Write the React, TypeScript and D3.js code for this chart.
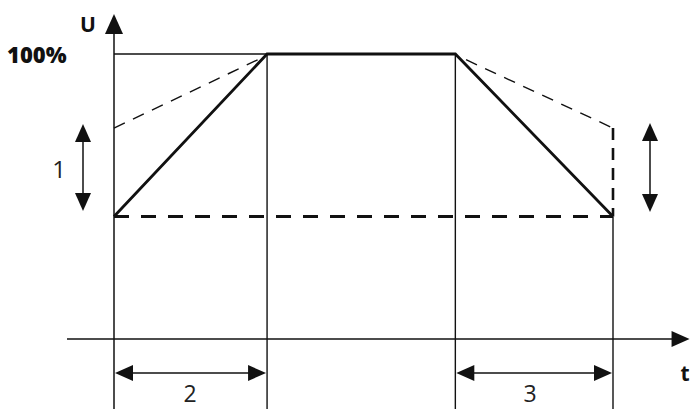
import React from "react";
import * as d3 from "d3";

// time points (arbitrary units): start, end of ramp-up, start of ramp-down, end
const phaseTimes = [0, 10, 22.3, 32.6];
// voltage levels in % of nominal
const startLevel = 43;
const fullLevel = 100;
const dashedStartLevel = 74;
// solid profile
const solidT = [0, 10, 22.3, 32.6];
const solidU = [43, 100, 100, 43];
// dashed alternative ramps
const dashUpT = [0, 9.4];
const dashUpU = [74, 98];
const dashDownT = [23, 32.6, 32.6];
const dashDownU = [98, 74, 43];
const labels = { u: "U", t: "t", full: "100%", range: "1", ramp: "2", decel: "3" };

const W = 695;
const H = 409;

const x = d3.scaleLinear().domain([0, 32.6]).range([114, 613]);
const y = d3.scaleLinear().domain([0, 100]).range([339, 54]);

const line = d3.line<[number, number]>().x((d) => x(d[0])).y((d) => y(d[1]));
const pts = (ts: number[], us: number[]) => ts.map((t, i) => [t, us[i]] as [number, number]);

function tri(tipX: number, tipY: number, dir: "up" | "down" | "left" | "right", len: number, half: number) {
  if (dir === "up") return `M${tipX},${tipY}L${tipX - half},${tipY + len}L${tipX + half},${tipY + len}Z`;
  if (dir === "down") return `M${tipX},${tipY}L${tipX - half},${tipY - len}L${tipX + half},${tipY - len}Z`;
  if (dir === "left") return `M${tipX},${tipY}L${tipX + len},${tipY - half}L${tipX + len},${tipY + half}Z`;
  return `M${tipX},${tipY}L${tipX - len},${tipY - half}L${tipX - len},${tipY + half}Z`;
}

export default function App() {
  const ink = "#111";
  const x0 = x(phaseTimes[0]);
  const x1 = x(phaseTimes[1]);
  const x2 = x(phaseTimes[2]);
  const x3 = x(phaseTimes[3]);
  const yAxis = y(0);
  const yFull = y(fullLevel);
  const yStart = y(startLevel);
  const yDash = y(dashedStartLevel);
  const yTop = y(114);
  const yBottom = 409;
  const xAxisLeft = x(-3.07);
  const xAxisRight = x(37.6);
  const dimY = 373;
  const leftArrowX = 83;
  const rightArrowX = 650;
  const font = "'Open Sans', 'DejaVu Sans', sans-serif";

  return (
    <svg width={W} height={H} style={{ position: "absolute", left: 0, top: 0, background: "#fff" }}>
      {/* y axis */}
      <line x1={x0} y1={yBottom} x2={x0} y2={yTop + 16} stroke={ink} strokeWidth={1.5} />
      <path d={tri(x0, yTop, "up", 20, 9)} fill={ink} />
      {/* t axis */}
      <line x1={xAxisLeft} y1={yAxis} x2={xAxisRight - 16} y2={yAxis} stroke={ink} strokeWidth={1.5} />
      <path d={tri(xAxisRight, yAxis, "right", 18, 8)} fill={ink} />
      {/* verticals */}
      <line x1={x1} y1={yFull} x2={x1} y2={yBottom} stroke={ink} strokeWidth={1.4} />
      <line x1={x2} y1={yFull} x2={x2} y2={yBottom} stroke={ink} strokeWidth={1.4} />
      <line x1={x3} y1={yStart} x2={x3} y2={yBottom} stroke={ink} strokeWidth={1.4} />
      {/* 100% thin line */}
      <line x1={x0} y1={yFull} x2={x1} y2={yFull} stroke={ink} strokeWidth={1.4} />
      {/* bottom dashed level */}
      <line x1={x0} y1={yStart} x2={x3} y2={yStart} stroke={ink} strokeWidth={3} strokeDasharray="15 12" />
      {/* dashed alternative ramps */}
      <path d={line(pts(dashUpT, dashUpU)) || ""} fill="none" stroke={ink} strokeWidth={1.4} strokeDasharray="12 9" />
      <path d={line(pts(dashDownT, dashDownU).slice(0, 2)) || ""} fill="none" stroke={ink} strokeWidth={1.4} strokeDasharray="12 9" />
      <path d={line(pts(dashDownT, dashDownU).slice(1)) || ""} fill="none" stroke={ink} strokeWidth={2.6} strokeDasharray="12 8" />
      {/* solid profile */}
      <path d={line(pts(solidT, solidU)) || ""} fill="none" stroke={ink} strokeWidth={2.8} strokeLinejoin="miter" />
      {/* vertical double arrows */}
      <line x1={leftArrowX} y1={124 + 16} x2={leftArrowX} y2={211 - 16} stroke={ink} strokeWidth={1.5} />
      <path d={tri(leftArrowX, 124, "up", 18, 8)} fill={ink} />
      <path d={tri(leftArrowX, 211, "down", 18, 8)} fill={ink} />
      <line x1={rightArrowX} y1={123 + 16} x2={rightArrowX} y2={212 - 16} stroke={ink} strokeWidth={1.5} />
      <path d={tri(rightArrowX, 123, "up", 18, 8)} fill={ink} />
      <path d={tri(rightArrowX, 212, "down", 18, 8)} fill={ink} />
      {/* horizontal dimension arrows */}
      <line x1={x0 + 16} y1={dimY} x2={x1 - 16} y2={dimY} stroke={ink} strokeWidth={1.5} />
      <path d={tri(x0 + 1, dimY, "left", 18, 8)} fill={ink} />
      <path d={tri(x1 - 1, dimY, "right", 18, 8)} fill={ink} />
      <line x1={x2 + 16} y1={dimY} x2={x3 - 16} y2={dimY} stroke={ink} strokeWidth={1.5} />
      <path d={tri(x2 + 1, dimY, "left", 18, 8)} fill={ink} />
      <path d={tri(x3 - 1, dimY, "right", 18, 8)} fill={ink} />
      {/* texts */}
      <text x={88} y={32} fontFamily={font} fontWeight={700} fontSize={21} textAnchor="middle" fill={ink}>{labels.u}</text>
      <text x={7} y={63} fontFamily={font} fontWeight={800} fontSize={22} fill={ink}>{labels.full}</text>
      <text x={59} y={178} fontFamily={font} fontSize={24} textAnchor="middle" fill="#222">{labels.range}</text>
      <text x={190} y={402} fontFamily={font} fontSize={23} textAnchor="middle" fill="#222">{labels.ramp}</text>
      <text x={530} y={402} fontFamily={font} fontSize={23} textAnchor="middle" fill="#222">{labels.decel}</text>
      <text x={685} y={381} fontFamily={font} fontWeight={700} fontSize={21} textAnchor="middle" fill={ink}>{labels.t}</text>
    </svg>
  );
}
